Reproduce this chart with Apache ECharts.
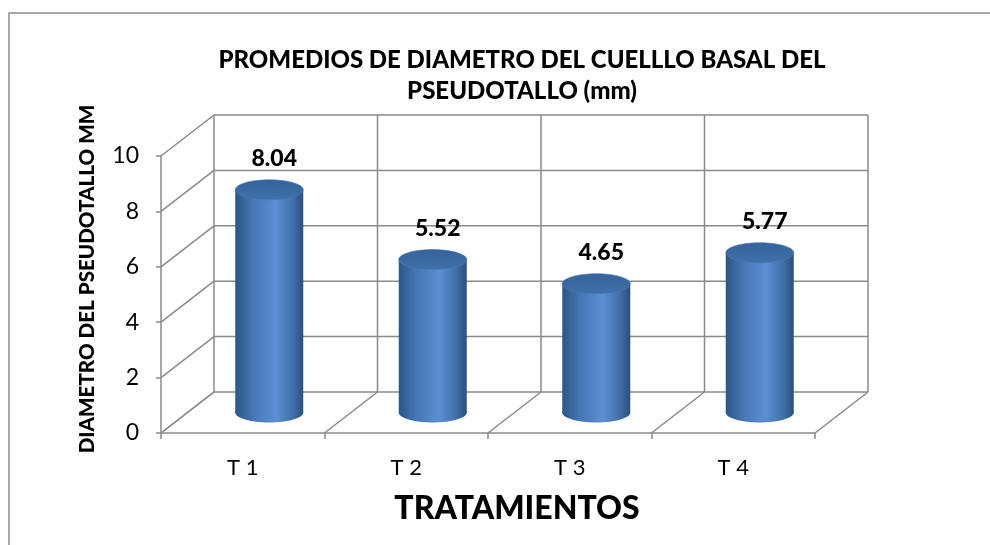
<!DOCTYPE html>
<html>
<head>
<meta charset="utf-8">
<script src="https://cdn.jsdelivr.net/npm/echarts@6/dist/echarts.min.js"></script>
<style>
  html, body { margin: 0; padding: 0; background: #fff; }
  #chart { width: 990px; height: 545px; }
</style>
</head>
<body>
<div id="chart"></div>
<script>
// datos del grafico
var categories = ['T 1', 'T 2', 'T 3', 'T 4'];
var values = [8.04, 5.52, 4.65, 5.77];
var yTicks = [0, 2, 4, 6, 8, 10];

// profundidad del "3D" (pixeles)
var DX = 53, DY = -41;
var FONT = 'Lato, "Open Sans", sans-serif';
var GRID_COLOR = '#8a8a8a';

var chart = echarts.init(document.getElementById('chart'));

function frameItem(params, api) {
  var band = api.size([1, 0])[0];
  var left = api.coord([0, 0])[0] - band / 2;
  var y0 = api.coord([0, 0])[1];
  var yTop = api.coord([0, yTicks[yTicks.length - 1]])[1];
  var lineStyle = { stroke: GRID_COLOR, lineWidth: 1.5 };
  var children = [];
  yTicks.forEach(function (t) {
    var y = api.coord([0, t])[1];
    children.push({ type: 'line', shape: { x1: left, y1: y, x2: left + DX, y2: y + DY }, style: lineStyle });
    children.push({ type: 'line', shape: { x1: left + DX, y1: y + DY, x2: left + DX + categories.length * band, y2: y + DY }, style: lineStyle });
  });
  for (var i = 0; i <= categories.length; i++) {
    var bx = left + i * band;
    children.push({ type: 'line', shape: { x1: bx, y1: y0, x2: bx + DX, y2: y0 + DY }, style: lineStyle });
    children.push({ type: 'line', shape: { x1: bx + DX, y1: y0 + DY, x2: bx + DX, y2: yTop + DY }, style: lineStyle });
  }
  return { type: 'group', children: children };
}

function cylinderItem(params, api) {
  var idx = api.value(0);
  var top = api.coord([idx, api.value(1)]);
  var base = api.coord([idx, 0]);
  var cx = top[0] + DX / 2;
  var ty = top[1] + DY / 2;
  var by = base[1] + DY / 2;
  var rx = 34, ry = 10;
  var bodyFill = new echarts.graphic.LinearGradient(0, 0, 1, 0, [
    { offset: 0, color: '#2b5687' },
    { offset: 0.25, color: '#4675b3' },
    { offset: 0.6, color: '#5b90d4' },
    { offset: 0.85, color: '#416ea7' },
    { offset: 1, color: '#2a4f7d' }
  ]);
  var topFill = new echarts.graphic.LinearGradient(0, 0, 0, 1, [
    { offset: 0, color: '#35629a' },
    { offset: 1, color: '#4071ab' }
  ]);
  return {
    type: 'group',
    children: [
      { type: 'ellipse', shape: { cx: cx, cy: by, rx: rx, ry: ry }, style: { fill: bodyFill } },
      { type: 'rect', shape: { x: cx - rx, y: ty, width: rx * 2, height: by - ty }, style: { fill: bodyFill } },
      { type: 'ellipse', shape: { cx: cx, cy: ty, rx: rx, ry: ry }, style: { fill: topFill, stroke: '#4a79b5', lineWidth: 0.6 } },
      {
        type: 'text',
        x: cx + 5, y: ty - 31,
        style: {
          text: api.value(1).toFixed(2),
          fill: '#000', font: '900 23px ' + FONT,
          align: 'center', verticalAlign: 'middle'
        }
      }
    ]
  };
}

var option = {
  backgroundColor: '#fff',
  animation: false,
  title: [
    {
      text: 'PROMEDIOS DE DIAMETRO DEL CUELLLO BASAL DEL\nPSEUDOTALLO (mm)',
      left: 517, top: 40, textAlign: 'center',
      textStyle: { fontFamily: FONT, fontWeight: 900, fontSize: 24, lineHeight: 31, color: '#000' }
    },
    {
      text: 'TRATAMIENTOS',
      left: 512, top: 488, textAlign: 'center',
      textStyle: { fontFamily: FONT, fontWeight: 900, fontSize: 32, color: '#000' }
    }
  ],
  graphic: [
    { type: 'rect', shape: { x: 9, y: 13, width: 1000, height: 560 }, style: { fill: 'none', stroke: '#8c8c8c', lineWidth: 1.5 }, silent: true }
  ],
  grid: { left: 161, right: 175, top: 156, bottom: 112 },
  xAxis: {
    type: 'category',
    data: categories,
    axisLine: { lineStyle: { color: GRID_COLOR, width: 1.5 } },
    axisTick: { show: true, length: 6, lineStyle: { color: GRID_COLOR, width: 1.5 } },
    axisLabel: { color: '#000', fontFamily: FONT, fontSize: 22, margin: 24 }
  },
  yAxis: {
    type: 'value',
    min: 0, max: 10, interval: 2,
    name: 'DIAMETRO DEL PSEUDOTALLO MM',
    nameLocation: 'middle',
    nameRotate: 90,
    nameGap: 63,
    nameTextStyle: { color: '#000', fontFamily: FONT, fontWeight: 900, fontSize: 20.6, padding: [0, 0, 0, 31] },
    axisLine: { show: true, lineStyle: { color: GRID_COLOR, width: 1.5 } },
    axisTick: { show: true, length: 5, lineStyle: { color: GRID_COLOR, width: 1.5 } },
    axisLabel: { color: '#000', fontFamily: FONT, fontSize: 23, margin: 22 },
    splitLine: { show: false }
  },
  series: [
    {
      type: 'custom',
      name: 'marco',
      silent: true,
      clip: false,
      z: 1,
      renderItem: frameItem,
      data: [[0, 0]]
    },
    {
      type: 'custom',
      name: 'diametro',
      clip: false,
      z: 3,
      renderItem: cylinderItem,
      encode: { x: 0, y: 1 },
      data: values.map(function (v, i) { return [i, v]; })
    }
  ]
};

chart.setOption(option);
</script>
</body>
</html>
